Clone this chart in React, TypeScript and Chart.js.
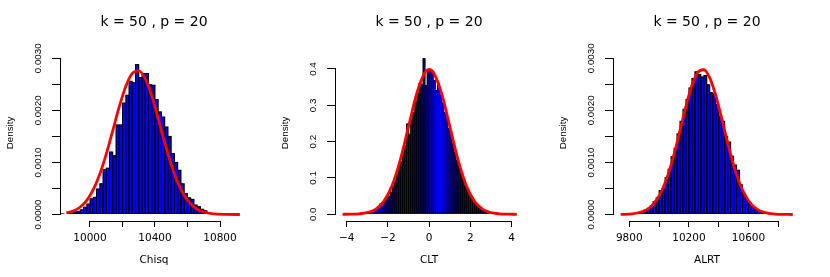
import React, { useEffect, useRef } from 'react';
import { Chart, registerables } from 'chart.js';

Chart.register(...registerables);

const TITLE = 'k = 50 , p = 20';
const Y_TITLE = 'Density';

// ---------- Panel 1: Chisq ----------
const chisqBinStart = 9820;
const chisqBinWidth = 20;
const chisqDensity = [
  0.00002, 0.00001, 0.00003, 0.00004, 0.00006, 0.00007, 0.0001, 0.00015, 0.00021, 0.00031,
  0.00034, 0.0005, 0.0006, 0.00087, 0.0009, 0.00121, 0.00114, 0.00173, 0.00173, 0.00215,
  0.0023, 0.00257, 0.00254, 0.00289, 0.00264, 0.00272, 0.00272, 0.0025, 0.00249, 0.00222,
  0.00198, 0.00188, 0.00169, 0.00151, 0.00118, 0.00101, 0.00086, 0.0006, 0.00041, 0.00033,
  0.0003, 0.00019, 0.00016, 0.00011, 0.00008, 0.00004, 0.00001,
];
const chisqCurveX = [9855, 9900, 9940, 9980, 10020, 10060, 10100, 10140, 10180, 10220, 10260, 10300, 10340, 10380, 10420, 10460, 10500, 10540, 10580, 10620, 10660, 10700, 10760, 10840, 10922];
const chisqCurveY = [0.00003, 0.000071, 0.000144, 0.000273, 0.000478, 0.000774, 0.00116, 0.00161, 0.00207, 0.00246, 0.00271, 0.00276, 0.00261, 0.00228, 0.00184, 0.00138, 0.000957, 0.000614, 0.000365, 0.000201, 0.000102, 0.000048, 0.000013, 0.000002, 0];
const chisqXTicks = [10000, 10200, 10400, 10600, 10800];
const chisqXLabels = ['10000', '', '10400', '', '10800'];

// ---------- Panel 2: CLT ----------
const cltBinStart = -3.8;
const cltBinWidth = 0.1;
const cltDensity = [
  0.002, 0.001, 0.002, 0.002, 0.004, 0.004, 0.004, 0.006, 0.008, 0.008,
  0.01, 0.012, 0.016, 0.022, 0.03, 0.034, 0.038, 0.046, 0.05, 0.062,
  0.078, 0.094, 0.112, 0.132, 0.146, 0.172, 0.19, 0.25, 0.222, 0.262,
  0.282, 0.31, 0.334, 0.362, 0.358, 0.43, 0.356, 0.398, 0.394, 0.388,
  0.37, 0.342, 0.362, 0.33, 0.308, 0.282, 0.27, 0.238, 0.22, 0.196,
  0.172, 0.15, 0.134, 0.112, 0.098, 0.08, 0.066, 0.052, 0.044, 0.036,
  0.028, 0.022, 0.018, 0.014, 0.01, 0.008, 0.004, 0.002,
];
const cltCurveX = [-4.2, -3.8, -3.4, -3.0, -2.6, -2.2, -1.8, -1.4, -1.0, -0.6, -0.2, 0, 0.2, 0.6, 1.0, 1.4, 1.8, 2.2, 2.6, 3.0, 3.4, 3.8, 4.25];
const cltCurveY = [0.000059, 0.00029, 0.00123, 0.00443, 0.0136, 0.0355, 0.079, 0.1497, 0.242, 0.3332, 0.391, 0.3989, 0.391, 0.3332, 0.242, 0.1497, 0.079, 0.0355, 0.0136, 0.00443, 0.00123, 0.00029, 0.00005];
const cltXTicks = [-4, -2, 0, 2, 4];
const cltXLabels = ['\u22124', '\u22122', '0', '2', '4'];
const cltYTicks = [0, 0.1, 0.2, 0.3, 0.4];
const cltYLabels = ['0.0', '0.1', '0.2', '0.3', '0.4'];

// ---------- Panel 3: ALRT ----------
const alrtBinStart = 9820;
const alrtBinWidth = 20;
const alrtDensity = [
  0.00002, 0.00003, 0.00005, 0.00007, 0.0001, 0.00013, 0.00018, 0.00026, 0.00033, 0.00047,
  0.0005, 0.00072, 0.00088, 0.00112, 0.00128, 0.00156, 0.0018, 0.00203, 0.00222, 0.00244,
  0.00262, 0.00275, 0.0027, 0.00265, 0.00268, 0.0025, 0.00235, 0.00233, 0.00212, 0.0019,
  0.0018, 0.00151, 0.0014, 0.00113, 0.00096, 0.00086, 0.00058, 0.0004, 0.0003, 0.00024,
  0.00016, 0.00012, 0.00008, 0.00004, 0.00002,
];
const alrtCurveX = [9742, 9820, 9900, 9940, 9980, 10020, 10060, 10100, 10140, 10180, 10220, 10260, 10300, 10340, 10380, 10420, 10460, 10500, 10540, 10580, 10620, 10660, 10700, 10780, 10897];
const alrtCurveY = [0.000002, 0.000013, 0.000068, 0.00014, 0.000266, 0.00047, 0.000766, 0.001154, 0.00161, 0.002075, 0.002476, 0.00273, 0.00278, 0.002625, 0.00229, 0.001846, 0.001376, 0.000948, 0.000605, 0.000357, 0.000195, 0.000098, 0.000046, 0.000008, 0];
const alrtXTicks = [9800, 10000, 10200, 10400, 10600, 10800];
const alrtXLabels = ['9800', '', '10200', '', '10600', ''];

const densityYTicks = [0, 0.0005, 0.001, 0.0015, 0.002, 0.0025, 0.003];
const densityYLabels = ['0.0000', '', '0.0010', '', '0.0020', '', '0.0030'];

type PanelCfg = {
  left: number;
  xTitle: string;
  binStart: number;
  binWidth: number;
  density: number[];
  curveX: number[];
  curveY: number[];
  xTicks: number[];
  xLabels: string[];
  yTicks: number[];
  yLabels: string[];
  xMin: number;
  xMax: number;
  yMin: number;
  yMax: number;
  binPx: number;
  yTickPad: number;
};

const panels: PanelCfg[] = [
  {
    left: 0, xTitle: 'Chisq', binStart: chisqBinStart, binWidth: chisqBinWidth, density: chisqDensity,
    curveX: chisqCurveX, curveY: chisqCurveY, xTicks: chisqXTicks, xLabels: chisqXLabels,
    yTicks: densityYTicks, yLabels: densityYLabels,
    xMin: 9815.4, xMax: 10972.3, yMin: -0.0001248, yMax: 0.0032554, binPx: 3.25, yTickPad: -1.3,
  },
  {
    left: 275, xTitle: 'CLT', binStart: cltBinStart, binWidth: cltBinWidth, density: cltDensity,
    curveX: cltCurveX, curveY: cltCurveY, xTicks: cltXTicks, xLabels: cltXLabels,
    yTicks: cltYTicks, yLabels: cltYLabels,
    xMin: -4.567, xMax: 4.548, yMin: -0.018445, yMax: 0.46607, binPx: 2.0625, yTickPad: 7.1,
  },
  {
    left: 553, xTitle: 'ALRT', binStart: alrtBinStart, binWidth: alrtBinWidth, density: alrtDensity,
    curveX: alrtCurveX, curveY: alrtCurveY, xTicks: alrtXTicks, xLabels: alrtXLabels,
    yTicks: densityYTicks, yLabels: densityYLabels,
    xMin: 9690.6, xMax: 10952.3, yMin: -0.0001248, yMax: 0.0032554, binPx: 2.98, yTickPad: -1.3,
  },
];

const CANVAS_W = 277;
const CANVAS_H = 277;

// R-style axis lines: drawn only between first and last tick
const rAxisPlugin = {
  id: 'rAxis',
  afterDraw(chart: any) {
    const { ctx, chartArea, scales } = chart;
    const xs = scales.x;
    const ys = scales.y;
    ctx.save();
    ctx.strokeStyle = '#000';
    ctx.lineWidth = 1;
    ctx.lineCap = 'butt';
    const xt = xs.ticks;
    const xa = Math.round(xs.getPixelForValue(xt[0].value) - 0.5);
    const xb = Math.round(xs.getPixelForValue(xt[xt.length - 1].value) - 0.5);
    const rowY = Math.round(chartArea.bottom) + 0.5;
    ctx.beginPath();
    ctx.moveTo(xa, rowY);
    ctx.lineTo(xb + 1, rowY);
    ctx.stroke();
    const yt = ys.ticks;
    const ya = Math.round(ys.getPixelForValue(yt[0].value) - 0.5);
    const yb = Math.round(ys.getPixelForValue(yt[yt.length - 1].value) - 0.5);
    const colX = Math.round(chartArea.left) + 0.5;
    ctx.beginPath();
    ctx.moveTo(colX, ya + 1);
    ctx.lineTo(colX, yb);
    ctx.stroke();
    ctx.restore();
  },
};

function makeConfig(p: PanelCfg): any {
  const bars = p.density.map((y, i) => ({ x: p.binStart + p.binWidth * (i + 0.5), y }));
  const curve = p.curveX.map((x, i) => ({ x, y: p.curveY[i] }));
  return {
    type: 'bar',
    data: {
      datasets: [
        {
          type: 'line',
          data: curve,
          borderColor: '#ff0000',
          borderWidth: 2.8,
          pointRadius: 0,
          fill: false,
          cubicInterpolationMode: 'monotone',
          order: 0,
        },
        {
          // blue fill with black top/bottom edges
          type: 'bar',
          data: bars,
          backgroundColor: '#0000ff',
          borderColor: '#000000',
          borderWidth: { top: 1, bottom: 1, left: 0, right: 0 },
          borderSkipped: false,
          inflateAmount: 0,
          barPercentage: (p.binPx - 1) / p.binPx,
          categoryPercentage: 1,
          grouped: false,
          order: 1,
        },
        {
          // black outline layer (side edges of every bin)
          type: 'bar',
          data: bars,
          backgroundColor: '#000000',
          borderWidth: 0,
          inflateAmount: 0,
          barPercentage: (p.binPx + 1) / p.binPx,
          categoryPercentage: 1,
          grouped: false,
          order: 2,
        },
      ],
    },
    options: {
      responsive: false,
      animation: false,
      devicePixelRatio: 1,
      layout: { padding: { left: 0, right: 29, top: 0, bottom: 0 } },
      plugins: {
        legend: { display: false },
        tooltip: { enabled: false },
        title: {
          display: true,
          text: TITLE,
          fullSize: false,
          color: '#000',
          font: { family: 'DejaVu Sans', size: 14, weight: 'normal', lineHeight: 1.2 },
          padding: { top: 14, bottom: 14.2 },
        },
      },
      scales: {
        x: {
          type: 'linear',
          min: p.xMin,
          max: p.xMax,
          offset: false,
          afterBuildTicks: (s: any) => {
            s.ticks = p.xTicks.map((v) => ({ value: v }));
          },
          afterFit: (s: any) => {
            s.height = 56;
          },
          border: { display: false },
          grid: {
            display: true,
            drawOnChartArea: false,
            drawTicks: true,
            tickLength: 6,
            color: '#000',
            lineWidth: 1,
            offset: false,
          },
          ticks: {
            autoSkip: false,
            minRotation: 0,
            maxRotation: 0,
            padding: 4.5,
            color: '#000',
            font: { family: 'DejaVu Sans', size: 10.5, lineHeight: 1.2 },
            callback: (_v: any, i: number) => p.xLabels[i],
          },
          title: {
            display: true,
            text: p.xTitle,
            color: '#000',
            font: { family: 'DejaVu Sans', size: 10.5, lineHeight: 1.2 },
            padding: { top: 0, bottom: 10.7 },
          },
        },
        y: {
          type: 'linear',
          min: p.yMin,
          max: p.yMax,
          afterBuildTicks: (s: any) => {
            s.ticks = p.yTicks.map((v) => ({ value: v }));
          },
          afterFit: (s: any) => {
            s.width = 60;
          },
          border: { display: false },
          grid: {
            display: true,
            drawOnChartArea: false,
            drawTicks: true,
            tickLength: 8,
            color: '#000',
            lineWidth: 1,
          },
          ticks: {
            autoSkip: false,
            minRotation: 90,
            maxRotation: 90,
            crossAlign: 'center',
            padding: p.yTickPad,
            color: '#000',
            font: { family: 'Liberation Sans', size: 9.8, lineHeight: 1.2 },
            callback: (_v: any, i: number) => p.yLabels[i],
          },
          title: {
            display: true,
            text: Y_TITLE,
            color: '#000',
            font: { family: 'Liberation Sans', size: 9.8, lineHeight: 1.2 },
            padding: { top: 4.1, bottom: 0 },
          },
        },
      },
    },
    plugins: [rAxisPlugin],
  };
}

function Panel({ cfg }: { cfg: PanelCfg }) {
  const ref = useRef<HTMLCanvasElement>(null);
  useEffect(() => {
    const chart = new Chart(ref.current as HTMLCanvasElement, makeConfig(cfg));
    return () => chart.destroy();
  }, [cfg]);
  return (
    <canvas
      ref={ref}
      width={CANVAS_W}
      height={CANVAS_H}
      style={{ position: 'absolute', left: cfg.left, top: 0, width: CANVAS_W, height: CANVAS_H }}
    />
  );
}

export default function App() {
  return (
    <div style={{ position: 'fixed', left: 0, top: 0, width: 830, height: 277, background: '#ffffff', overflow: 'hidden' }}>
      {panels.map((p, i) => (
        <Panel key={i} cfg={p} />
      ))}
    </div>
  );
}
